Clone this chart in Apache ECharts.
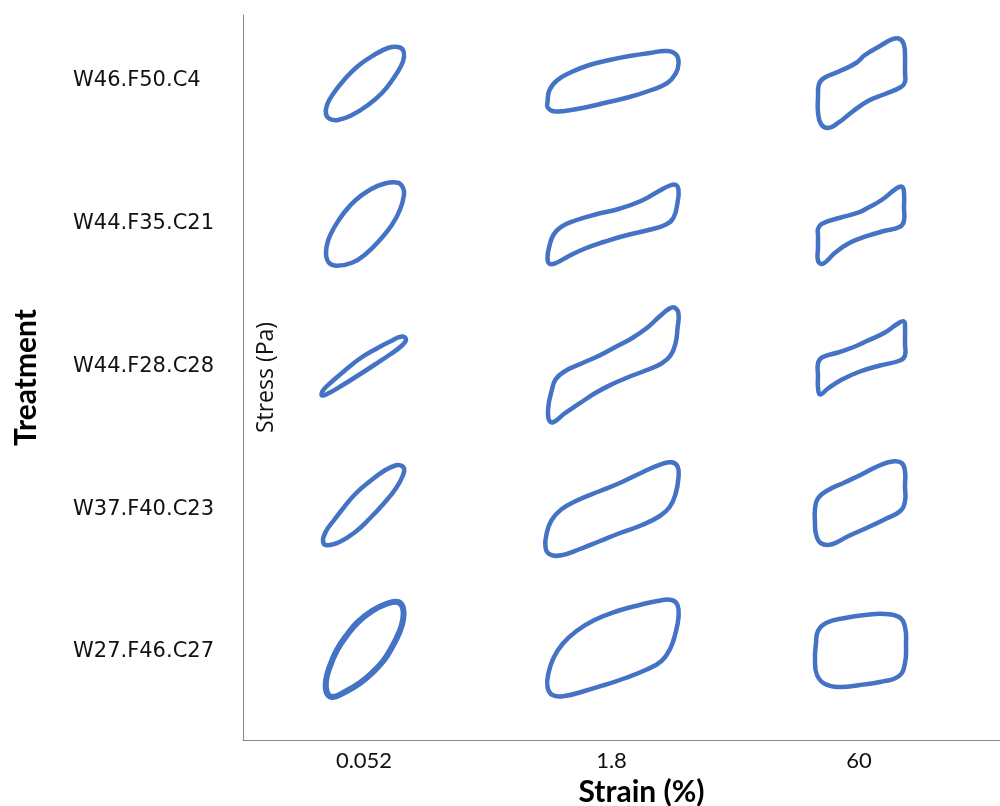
<!DOCTYPE html>
<html>
<head>
<meta charset="utf-8">
<script src="https://cdn.jsdelivr.net/npm/echarts@6/dist/echarts.min.js"></script>
<style>html,body{margin:0;padding:0;background:#fff}#c{width:1000px;height:806px}</style>
</head>
<body>
<div id="c"></div>
<script>
// Categories
const treatments = ['W46.F50.C4', 'W44.F35.C21', 'W44.F28.C28', 'W37.F40.C23', 'W27.F46.C27'];
const strainLevels = ['0.052', '1.8', '60'];

// Lissajous loops: [strain, stress] in local units, centred on each cell
const w46_s0052 = [[34,34],[39,31],[40,24],[37,15],[29,2],[18,-12],[4,-24],[-12,-34],[-26,-39],[-34,-38],[-38,-33],[-37,-24],[-31,-13],[-20,1],[-6,15],[10,26],[24,33]];
const w46_s18 = [[-64,-21],[-62,-9],[-54,1],[-40,9],[-22,16],[-2,21],[18,25],[38,28],[56,30],[65,26],[67,17],[64,7],[56,-2],[40,-9],[18,-16],[-7,-22],[-29,-27],[-47,-30],[-59,-30],[-64,-26]];
const w46_s60 = [[-40,-3],[-35,3],[-19,10],[-3,18],[6,26],[21,35],[34,42],[41,42],[45,36],[46,24],[46,9],[46,-1],[42,-6],[26,-13],[9,-20],[-7,-31],[-21,-42],[-31,-47],[-38,-43],[-41,-31],[-41,-16]];

const w44a_s0052 = [[34,41],[39,36],[40,29],[36,14],[28,-1],[16,-16],[2,-30],[-12,-39],[-27,-42],[-35,-39],[-38,-30],[-36,-17],[-30,-4],[-20,11],[-8,24],[6,34],[20,40]];
const w44a_s18 = [[64,39],[67,34],[66,21],[62,6],[54,-1],[38,-6],[13,-12],[-7,-18],[-27,-25],[-42,-32],[-55,-39],[-62,-40],[-64,-34],[-62,-22],[-58,-11],[-50,-3],[-37,3],[-17,9],[8,15],[30,23],[48,33],[58,38]];
const w44a_s60 = [[-41,-5],[-37,0],[-19,6],[-1,11],[9,16],[23,24],[37,35],[43,37],[45,31],[45,16],[45,3],[41,-3],[26,-7],[6,-13],[-11,-20],[-24,-29],[-36,-40],[-41,-37],[-41,-24],[-41,-11]];

const w44b_s0052 = [[38,30],[42,27],[38,21],[26,12],[11,2],[-6,-9],[-22,-19],[-36,-27],[-42,-29],[-41,-24],[-32,-15],[-18,-3],[-4,8],[11,17],[26,25]];
const w44b_s18 = [[63,59],[67,53],[66,38],[64,23],[59,11],[50,3],[34,-4],[16,-11],[0,-18],[-17,-27],[-32,-37],[-47,-47],[-59,-56],[-63,-52],[-63,-39],[-60,-25],[-56,-13],[-47,-5],[-30,3],[-12,11],[3,19],[20,28],[36,39],[48,50],[58,58]];
const w44b_s60 = [[-41,3],[-37,9],[-21,14],[-4,20],[9,26],[26,34],[39,43],[45,45],[46,38],[46,23],[46,11],[41,6],[21,1],[1,-5],[-17,-13],[-31,-22],[-39,-28],[-41,-21],[-41,-9]];

const w37_s0052 = [[36,44],[40,41],[39,34],[32,21],[20,6],[6,-9],[-9,-23],[-25,-33],[-37,-36],[-41,-32],[-38,-22],[-30,-11],[-20,2],[-8,16],[6,28],[21,39],[32,44]];
const w37_s18 = [[60,47],[66,43],[67,32],[64,15],[58,2],[48,-7],[30,-16],[8,-24],[-12,-32],[-32,-40],[-50,-46],[-62,-45],[-66,-38],[-65,-25],[-60,-11],[-50,0],[-34,9],[-12,18],[10,27],[31,37],[50,45]];
const w37_s60 = [[-44,0],[-41,11],[-31,19],[-14,27],[3,35],[21,44],[35,48],[43,46],[46,38],[46,23],[46,8],[41,-2],[26,-10],[7,-19],[-11,-27],[-27,-35],[-38,-34],[-43,-25],[-44,-13]];

const w27_s0052 = [[34,50],[39,44],[39,32],[35,19],[28,5],[20,-8],[9,-20],[-4,-31],[-19,-40],[-31,-45],[-37,-41],[-38,-29],[-34,-14],[-27,2],[-17,17],[-6,30],[8,41],[22,48]];
const w27_s18 = [[60,52],[66,47],[67,35],[64,19],[59,4],[50,-9],[34,-18],[14,-26],[-7,-33],[-27,-39],[-47,-44],[-59,-43],[-64,-35],[-63,-21],[-58,-6],[-49,8],[-35,21],[-17,32],[6,41],[28,47],[46,51]];
const w27_s60 = [[-43,9],[-41,21],[-33,29],[-14,34],[6,37],[26,38],[40,35],[46,25],[47,7],[46,-11],[40,-24],[21,-30],[1,-33],[-19,-35],[-34,-32],[-42,-23],[-44,-8]];

const loopTable = [
  [0, 0, w46_s0052], [0, 1, w46_s18], [0, 2, w46_s60],
  [1, 0, w44a_s0052], [1, 1, w44a_s18], [1, 2, w44a_s60],
  [2, 0, w44b_s0052], [2, 1, w44b_s18], [2, 2, w44b_s60],
  [3, 0, w37_s0052], [3, 1, w37_s18], [3, 2, w37_s60],
  [4, 0, w27_s0052], [4, 1, w27_s18], [4, 2, w27_s60]
];

const X_UNIT = 247.5, Y_UNIT = 142.75;
const BLUE = '#4472C4';
const AXIS = '#868686';

const series = loopTable.map(([r, c, pts]) => {
  const data = pts.map(([e, s]) => [c + e / X_UNIT, r - s / Y_UNIT]);
  const w = (r === 4 && c === 0) ? 6 : 4.5;
  return {
    type: 'custom',
    coordinateSystem: 'cartesian2d',
    data: data,
    encode: { x: 0, y: 1 },
    silent: true,
    clip: false,
    renderItem: (params, api) => {
      if (params.dataIndex !== 0) return null;
      return {
        type: 'polygon',
        shape: { points: data.map(d => api.coord(d)), smooth: 0.45 },
        style: { fill: 'none', stroke: BLUE, lineWidth: w, lineJoin: 'round' }
      };
    }
  };
});

const chart = echarts.init(document.getElementById('c'), null, { renderer: 'canvas' });
chart.setOption({
  animation: false,
  backgroundColor: '#fff',
  grid: { left: 243, right: 0, top: 15, bottom: 66, containLabel: false, outerBoundsMode: 'none' },
  xAxis: {
    type: 'value', min: -0.4889, max: 2.5697,
    name: 'Strain (%)', nameLocation: 'middle', nameGap: 37,
    nameTextStyle: { fontFamily: 'Lato', fontWeight: 'bold', fontSize: 30, color: '#000', padding: [0, 0, 0, 40] },
    axisLine: { show: true, onZero: false, lineStyle: { color: AXIS, width: 1 } },
    axisTick: { show: false },
    splitLine: { show: false },
    axisLabel: {
      customValues: [0, 1, 2],
      formatter: v => strainLevels[Math.round(v)],
      fontFamily: 'Lato', fontSize: 22, color: '#111', margin: 10
    }
  },
  yAxis: [{
    type: 'value', min: -0.4623, max: 4.6165, inverse: true,
    name: 'Treatment', nameLocation: 'middle', nameGap: 202,
    nameTextStyle: { fontFamily: 'Lato', fontWeight: 'bold', fontSize: 30, color: '#000' },
    axisLine: { show: true, onZero: false, lineStyle: { color: AXIS, width: 1 } },
    axisTick: { show: false },
    splitLine: { show: false },
    axisLabel: {
      customValues: [0, 1, 2, 3, 4],
      formatter: v => treatments[Math.round(v)],
      align: 'left', margin: 170, padding: [2, 0, 0, 0],
      fontFamily: 'DejaVu Sans', fontSize: 21, color: '#111'
    }
  }, {
    type: 'value', min: -0.4623, max: 4.6165, inverse: true, position: 'left',
    name: 'Stress (Pa)', nameLocation: 'middle', nameGap: -35,
    nameTextStyle: { fontFamily: 'Open Sans', fontSize: 23, color: '#111' },
    axisLine: { show: false }, axisTick: { show: false }, axisLabel: { show: false }, splitLine: { show: false }
  }],
  series: series
});
</script>
</body>
</html>
